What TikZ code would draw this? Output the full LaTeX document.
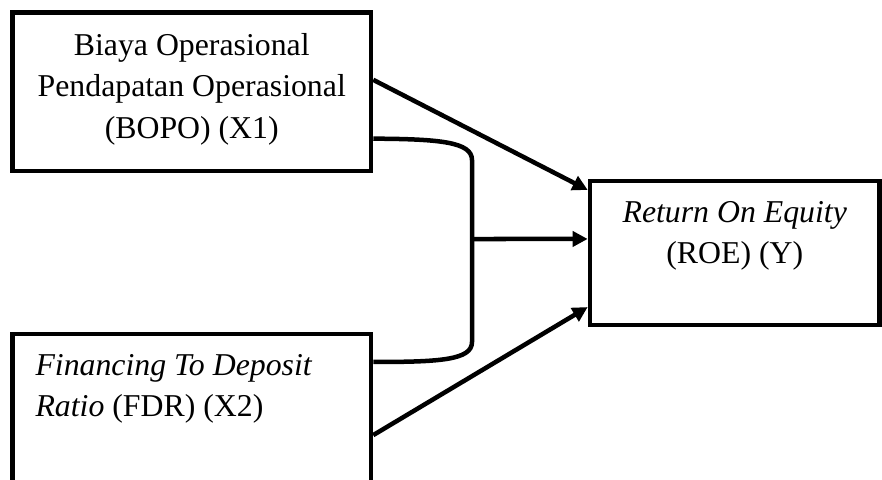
\documentclass[tikz,border=0pt]{standalone}
\usepackage{fontspec}
\setmainfont{Liberation Serif}
\usetikzlibrary{arrows.meta}
\tikzstyle{box}=[draw,line width=1.7pt,inner sep=0pt]
\tikzstyle{txt}=[inner sep=0pt,font=\fontsize{12}{15.65}\selectfont]

\begin{document}
\begin{tikzpicture}[x=0.3774pt,y=-0.3774pt]
\clip (0,0) rectangle (882,479);
\draw (191.75,91.75)node (bopo)[box,minimum width=135.3pt,minimum height=59.8pt]{};
\draw (191.75,429)node (fdr)[box,minimum width=135.3pt,minimum height=71.7pt]{};
\draw (734.75,253)node (roe)[box,minimum width=109.3pt,minimum height=54.3pt]{};
\draw (191.75,89)node (bopotext)[txt,align=center]{Biaya Operasional\\Pendapatan Operasional\\(BOPO) (X1)};
\draw (35,388.7)node (fdrtext)[txt,align=left,anchor=west]{\textit{Financing To Deposit}\\\textit{Ratio} (FDR) (X2)};
\draw (734.75,236)node (roetext)[txt,align=center]{\textit{Return On Equity}\\(ROE) (Y)};
\coordinate (jtop) at (472,160);
\coordinate (join) at (472,239);
\coordinate (jbot) at (472,342);
\draw[line width=1.7pt] ([yshift=-17.7pt]bopo.east) .. controls (440,139) and (472,142) .. (jtop) -- (jbot) .. controls (472,360) and (440,362) .. ([yshift=25.3pt]fdr.east);
\path[line width=1.7pt]
    ([yshift=4.5pt]bopo.east) edge [->,>={Triangle[length=5.7pt,width=5.7pt]}] ([yshift=23.8pt]roe.west);
\path[line width=1.7pt]
    (join) edge [->,>={Triangle[length=5.7pt,width=5.7pt]}] ([yshift=5.3pt]roe.west);
\path[line width=1.7pt]
    ([yshift=-2.3pt]fdr.east) edge [->,>={Triangle[length=5.7pt,width=5.7pt]}] ([yshift=-20.4pt]roe.west);
\end{tikzpicture}
\end{document}
